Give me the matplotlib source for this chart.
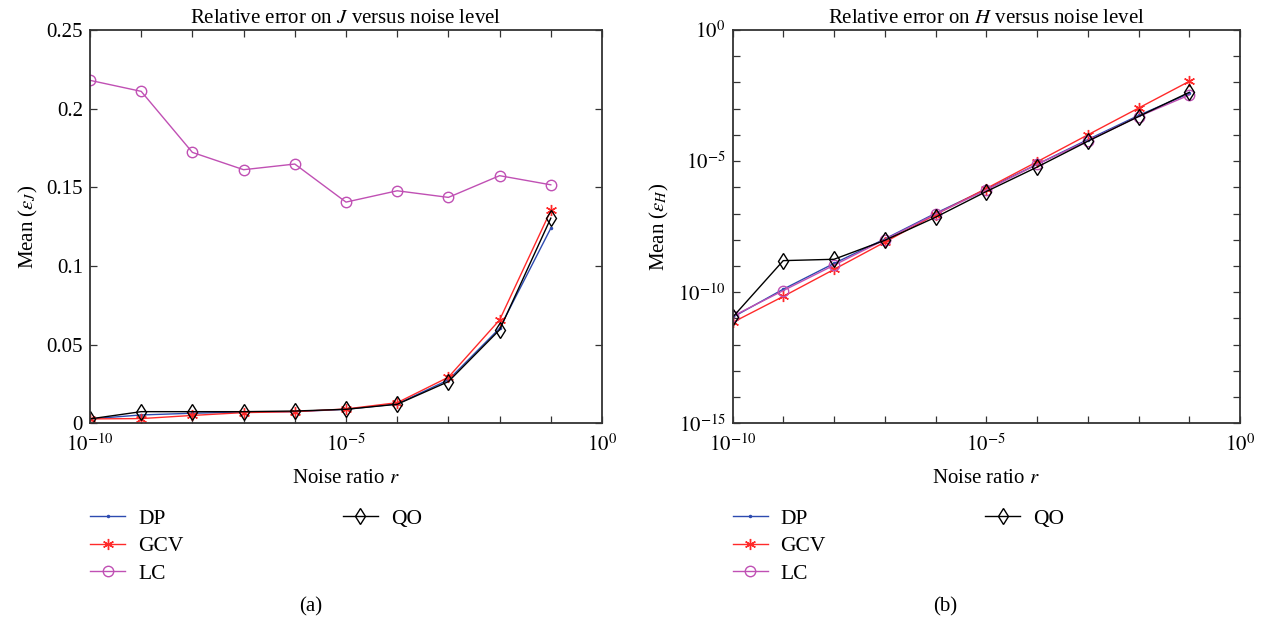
import matplotlib
matplotlib.use("Agg")
import matplotlib.pyplot as plt
from matplotlib.lines import Line2D
from matplotlib import ticker

plt.rcParams['font.family'] = ['Liberation Serif', 'DejaVu Serif']
plt.rcParams['mathtext.fontset'] = 'stix'

noise = [1e-10, 1e-9, 1e-8, 1e-7, 1e-6, 1e-5, 1e-4, 1e-3, 1e-2, 1e-1]

# Panel (a): mean relative error on J
J_DP = [0.0028, 0.0053, 0.0064, 0.0072, 0.0074, 0.0089, 0.0123, 0.0276, 0.0604, 0.124]
J_GCV = [0.0028, 0.0030, 0.0050, 0.0068, 0.0074, 0.0091, 0.0131, 0.0293, 0.0657, 0.1353]
J_LC = [0.2180, 0.2110, 0.1722, 0.1612, 0.1648, 0.1406, 0.1478, 0.1436, 0.1574, 0.1516]
J_QO = [0.0028, 0.0074, 0.0074, 0.0074, 0.0078, 0.0089, 0.0121, 0.0265, 0.0594, 0.1304]

# Panel (b): mean relative error on H
H_DP = [1.1e-11, 1.3e-10, 1.25e-9, 1.07e-8, 1.02e-7, 8.5e-7, 7.5e-6, 6.6e-5, 5.5e-4, 3.8e-3]
H_GCV = [7e-12, 6.9e-11, 7.4e-10, 8.1e-9, 9.1e-8, 9e-7, 9.4e-6, 1.0e-4, 1.05e-3, 1.1e-2]
H_LC = [1.2e-11, 1.15e-10, 1.07e-9, 1e-8, 9.5e-8, 7.9e-7, 7.5e-6, 6e-5, 5e-4, 3.3e-3]
H_QO = [1.1e-11, 1.6e-9, 1.8e-9, 9.5e-9, 7.2e-8, 6.9e-7, 5.9e-6, 5.7e-5, 5e-4, 4.2e-3]

labels = ['DP', 'GCV', 'LC', 'QO']
colors = ['#2d4bb0', '#ff2a2a', '#c050b4', '#000000']
ASTER = (6, 2, 0)
styles = [
    dict(marker='.', markersize=3),
    dict(marker=ASTER, markersize=8, markeredgewidth=1.0),
    dict(marker='o', markersize=7.5, markerfacecolor='none', markeredgewidth=1.0),
    dict(marker='d', markersize=8.5, markerfacecolor='none', markeredgewidth=1.0),
]

W, H = 1263, 625
fig = plt.figure(figsize=(W / 100, H / 100), dpi=100)
top, bot = 30.0, 423.3
axA = fig.add_axes([90 / W, 1 - bot / H, (602 - 90) / W, (bot - top) / H])
axB = fig.add_axes([732.5 / W, 1 - bot / H, (1240 - 732.5) / W, (bot - top) / H])

decades_x = [10.0 ** k for k in range(-10, 1)]


def style_axes(ax):
    for s in ax.spines.values():
        s.set_color('#333333')
        s.set_linewidth(1.3)
    ax.tick_params(which='both', direction='in', top=True, right=True,
                   labelsize=15, length=5, width=0.9, color='#333333')
    ax.tick_params(axis='x', which='both', pad=8)
    ax.tick_params(axis='y', which='both', pad=5)


def add_legend(ax, handles):
    blank = Line2D([], [], linestyle='none', marker='none')
    hs = handles + [blank, blank]
    ls = labels + ['', '']
    ax.legend(hs, ls, ncol=2, loc='upper left', bbox_to_anchor=(0.0, -0.217),
              frameon=False, fontsize=15.5, handlelength=1.63, handletextpad=0.6,
              columnspacing=7.4, labelspacing=0.35, borderaxespad=0, borderpad=0)


def setup_x(ax):
    ax.set_xscale('log')
    ax.set_xlim(1e-10, 1e0)
    ax.xaxis.set_major_locator(ticker.FixedLocator([1e-10, 1e-5, 1e0]))
    ax.xaxis.set_major_formatter(ticker.FixedFormatter([r'$10^{-10}$', r'$10^{-5}$', r'$10^{0}$']))
    ax.xaxis.set_minor_locator(ticker.FixedLocator(decades_x))
    ax.xaxis.set_minor_formatter(ticker.NullFormatter())


# Panel (a)
hA = []
for ys, lab, c, st in zip([J_DP, J_GCV, J_LC, J_QO], labels, colors, styles):
    h, = axA.plot(noise, ys, color=c, linewidth=1.0, markeredgecolor=c, label=lab, **st)
    hA.append(h)
setup_x(axA)
axA.set_ylim(0, 0.25)
axA.set_yticks([0, 0.05, 0.1, 0.15, 0.2, 0.25])
axA.set_yticklabels(['0', '0.05', '0.1', '0.15', '0.2', '0.25'])
style_axes(axA)
axA.set_title(r'Relative error on $J$ versus noise level', fontsize=15, pad=5)
axA.set_xlabel(r'Noise ratio $r$', fontsize=15, labelpad=9)
axA.set_ylabel(r'Mean ($\varepsilon_J$)', fontsize=15, labelpad=5)
add_legend(axA, hA)

# Panel (b)
hB = []
for ys, lab, c, st in zip([H_DP, H_GCV, H_LC, H_QO], labels, colors, styles):
    h, = axB.plot(noise, ys, color=c, linewidth=1.0, markeredgecolor=c, label=lab, **st)
    hB.append(h)
setup_x(axB)
axB.set_yscale('log')
axB.set_ylim(1e-15, 1e0)
axB.yaxis.set_major_locator(ticker.FixedLocator([1e-15, 1e-10, 1e-5, 1e0]))
axB.yaxis.set_major_formatter(ticker.FixedFormatter([r'$10^{-15}$', r'$10^{-10}$', r'$10^{-5}$', r'$10^{0}$']))
axB.yaxis.set_minor_locator(ticker.FixedLocator([10.0 ** k for k in range(-15, 1)]))
axB.yaxis.set_minor_formatter(ticker.NullFormatter())
style_axes(axB)
axB.set_title(r'Relative error on $H$ versus noise level', fontsize=15, pad=5)
axB.set_xlabel(r'Noise ratio $r$', fontsize=15, labelpad=9)
axB.set_ylabel(r'Mean ($\varepsilon_H$)', fontsize=15, labelpad=5)
add_legend(axB, hB)

fig.text(311 / W, 1 - 607 / H, '(a)', ha='center', va='center', fontsize=15)
fig.text(945 / W, 1 - 607 / H, '(b)', ha='center', va='center', fontsize=15)

fig.savefig('out.png', dpi=100)
